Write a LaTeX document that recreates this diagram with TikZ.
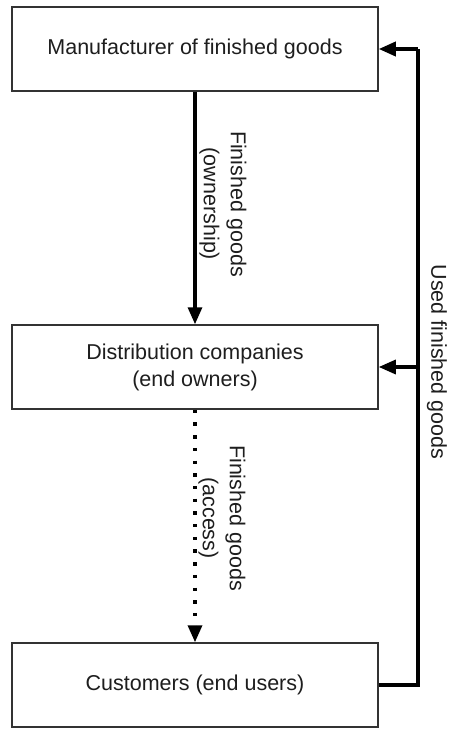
\documentclass[tikz,border=0pt]{standalone}
\usepackage{fontspec}
\setmainfont{Liberation Sans}
\usetikzlibrary{arrows.meta}
\definecolor{ink}{HTML}{1E1E1E}
\definecolor{frame}{HTML}{333333}
\begin{document}
\begin{tikzpicture}[x=1pt,y=-1pt,
  font=\fontsize{21.5}{27}\selectfont,
  every node/.style={text=ink},
  box/.style={draw=frame, line width=1.5pt, rectangle, minimum width=366pt,
    minimum height=84pt, inner sep=0pt, align=center, fill=white},
  flow/.style={draw=black, line width=3.2pt,
    -{Triangle[width=14pt,length=17pt]}},
  link/.style={draw=black, line width=3.6pt, line join=miter},
  dots/.style={flow, line width=3.4pt, dash pattern=on 3.4pt off 9.3pt},
  lbl/.style={rotate=-90, align=center, inner sep=0pt}]
  \useasboundingbox (0,0) rectangle (449,730);
  \fill[white] (0,0) rectangle (449,730);

  % the three parties
  \node[box] (man)  at (195,49)  {Manufacturer of finished goods};
  \node[box] (dist) at (195,367) {Distribution companies\\(end owners)};
  \node[box] (cust) at (195,685) {Customers (end users)};

  % forward flow
  \draw[flow] (man.south) -- (dist.north);
  \draw[dots] (dist.south) -- (cust.north);
  \node[lbl] (ownlbl) at (223,204) {Finished goods\\(ownership)};
  \node[lbl] (acclbl) at (222,518) {Finished goods\\(access)};

  % return loop
  \coordinate (cornerBot) at (418,685);
  \coordinate (cornerTop) at (418,49);
  \coordinate (junc) at (418,367);
  \draw[link] (cust.east) -- (cornerBot) -- (cornerTop);
  \draw[flow, line width=3.6pt] (cornerTop) -- (man.east);
  \draw[flow] (junc) -- (dist.east);
  \node[lbl] (uselbl) at (437,362) {Used finished goods};
\end{tikzpicture}
\end{document}
